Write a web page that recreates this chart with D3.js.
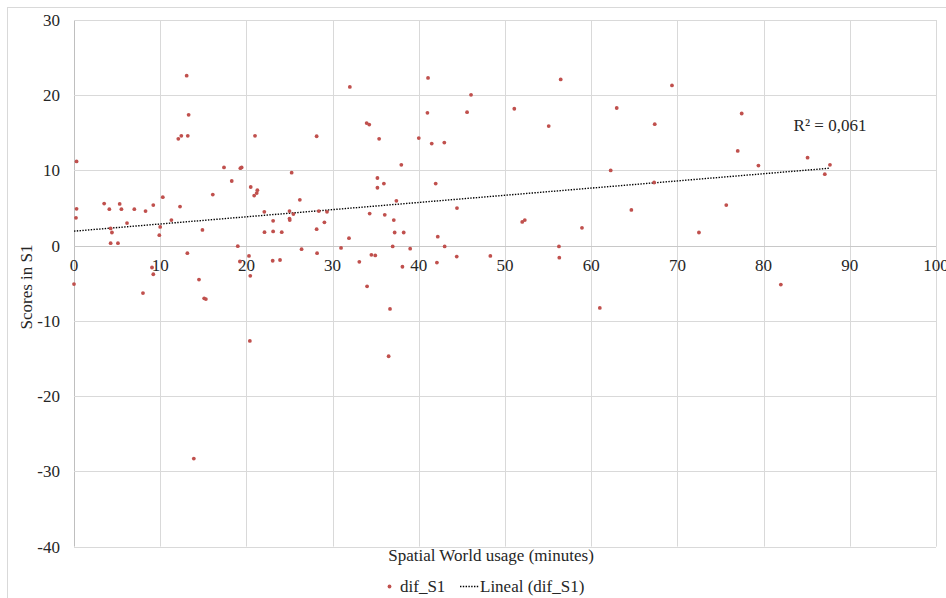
<!DOCTYPE html>
<html><head><meta charset="utf-8">
<script src="https://cdn.jsdelivr.net/npm/d3@7"></script>
<style>html,body{margin:0;padding:0;background:#fff;overflow:hidden}</style>
</head><body><svg id="c" width="946" height="598"></svg>
<script>
const xValues = [0.3,0.3,0.23,0,13.07,13.3,12.1,12.45,13.2,17.4,19.3,19.45,18.3,16.1,10.3,3.5,4.1,5.3,5.5,7.0,8.3,9.2,12.3,11.3,6.15,4.25,4.4,14.9,10.0,9.9,4.25,5.1,13.15,19.0,19.25,9.05,9.2,8.0,14.5,15.1,15.3,13.9,32.0,33.95,34.25,21.0,28.15,35.4,37.97,25.25,35.2,35.95,35.2,20.5,21.27,21.2,20.9,26.2,37.4,22.08,25.0,25.45,25.0,25.03,28.4,29.35,34.3,36.05,23.1,29.05,37.1,22.1,23.1,24.1,28.15,37.2,38.25,31.9,20.3,20.45,23.05,23.9,26.4,28.2,30.98,33.1,34.5,34.95,36.97,34.0,38.1,36.66,20.4,36.5,39.0,41.07,56.46,46.06,41.0,45.6,51.08,55.07,40.0,41.5,42.96,41.96,44.43,52.0,52.3,42.2,43.0,42.1,44.4,48.3,56.26,56.3,69.37,62.96,77.46,67.37,77.0,62.26,67.3,75.67,64.66,58.93,72.5,61.0,79.4,85.1,87.7,87.1,82.0];
const yValues = [11.2,4.9,3.7,-5.1,22.6,17.4,14.2,14.6,14.6,10.4,10.3,10.4,8.6,6.8,6.45,5.6,4.85,5.55,4.85,4.85,4.6,5.4,5.2,3.4,3.0,2.3,1.75,2.1,2.5,1.4,0.33,0.33,-1.0,-0.07,-2.1,-2.9,-3.8,-6.3,-4.5,-7.0,-7.1,-28.3,21.1,16.3,16.1,14.6,14.55,14.2,10.75,9.7,9.0,8.26,7.7,7.8,7.38,7.0,6.66,6.1,5.96,4.5,4.6,4.2,3.6,3.4,4.6,4.5,4.27,4.1,3.3,3.1,3.4,1.8,1.9,1.8,2.2,1.75,1.75,1.0,-1.36,-4.0,-2.0,-1.9,-0.47,-1.0,-0.3,-2.15,-1.22,-1.3,-0.1,-5.4,-2.8,-8.4,-12.66,-14.7,-0.4,22.3,22.1,20.05,17.66,17.75,18.2,15.9,14.3,13.58,13.7,8.26,5.0,3.16,3.4,1.2,-0.1,-2.25,-1.45,-1.36,-0.1,-1.6,21.3,18.3,17.57,16.15,12.6,10.0,8.4,5.4,4.76,2.37,1.75,-8.27,10.65,11.7,10.75,9.5,-5.17];
const trendX = [0, 87.7];
const trendY = [1.93, 10.3];
const xTicks = [0,10,20,30,40,50,60,70,80,90,100];
const yTicks = [30,20,10,0,-10,-20,-30,-40];
const seriesName = "dif_S1";
const trendName = "Lineal (dif_S1)";
const r2Label = "R² = 0,061";
const xTitle = "Spatial World usage (minutes)";
const yTitle = "Scores in S1";

const svg = d3.select("#c");
const font = "'Liberation Serif', 'Times New Roman', serif";
const fs = 17;
const txt = "#262626";
const x = d3.scaleLinear().domain([0,100]).range([74,936]);
const y = d3.scaleLinear().domain([-40,30]).range([546.6,20]);

// outer chart border
svg.append("rect").attr("x",7.5).attr("y",7.5).attr("width",1200).attr("height",1200)
  .attr("fill","none").attr("stroke","#d9d9d9").attr("stroke-width",1);

// gridlines
const g = svg.append("g");
g.selectAll(".vg").data(xTicks).join("line")
  .attr("x1",d=>Math.round(x(d))+0.5).attr("x2",d=>Math.round(x(d))+0.5)
  .attr("y1",y(30)).attr("y2",y(-40))
  .attr("stroke",d=>d===0?"#bfbfbf":"#d9d9d9").attr("stroke-width",1);
g.selectAll(".hg").data(yTicks).join("line")
  .attr("y1",d=>Math.round(y(d))+0.5).attr("y2",d=>Math.round(y(d))+0.5)
  .attr("x1",x(0)).attr("x2",x(100))
  .attr("stroke",d=>d===0?"#c8c8c8":"#d9d9d9").attr("stroke-width",1);

// y tick labels
svg.append("g").selectAll("text").data(yTicks).join("text")
  .attr("x",60).attr("y",d=>y(d)).attr("dy","0.35em")
  .attr("text-anchor","end").attr("font-family",font).attr("font-size",fs).attr("fill",txt)
  .text(d=>d);
// x tick labels (axis crosses at y=0)
svg.append("g").selectAll("text").data(xTicks).join("text")
  .attr("x",d=>x(d)).attr("y",y(0)+25)
  .attr("text-anchor","middle").attr("font-family",font).attr("font-size",fs).attr("fill",txt)
  .text(d=>d);

// trendline
svg.append("line")
  .attr("x1",x(trendX[0])).attr("y1",y(trendY[0]))
  .attr("x2",x(trendX[1])).attr("y2",y(trendY[1]))
  .attr("stroke","#000").attr("stroke-width",1.4).attr("stroke-dasharray","1.4 1.4");

// points
const pts = xValues.map((v,i)=>({x:v,y:yValues[i]}));
svg.append("g").selectAll("circle").data(pts).join("circle")
  .attr("cx",d=>x(d.x)).attr("cy",d=>y(d.y)).attr("r",1.9)
  .attr("fill","#c0504d");

// R2 label
svg.append("text").attr("x",830).attr("y",131).attr("text-anchor","middle")
  .attr("font-family",font).attr("font-size",fs).attr("fill",txt).text(r2Label);

// axis titles
svg.append("text").attr("x",491).attr("y",561).attr("text-anchor","middle")
  .attr("font-family",font).attr("font-size",fs).attr("fill",txt).text(xTitle);
svg.append("text").attr("transform","translate(32,287) rotate(-90)").attr("text-anchor","middle")
  .attr("font-family",font).attr("font-size",fs).attr("fill",txt).text(yTitle);

// legend
const lg = svg.append("g");
lg.append("circle").attr("cx",389.5).attr("cy",586.5).attr("r",1.9).attr("fill","#c0504d");
lg.append("text").attr("x",400).attr("y",591.5).attr("font-family",font).attr("font-size",fs).attr("fill",txt).text(seriesName);
lg.append("line").attr("x1",460).attr("x2",479).attr("y1",586.5).attr("y2",586.5)
  .attr("stroke","#000").attr("stroke-width",1.4).attr("stroke-dasharray","1.4 1.4");
lg.append("text").attr("x",480).attr("y",591.5).attr("font-family",font).attr("font-size",fs).attr("fill",txt).text(trendName);
</script></body></html>
